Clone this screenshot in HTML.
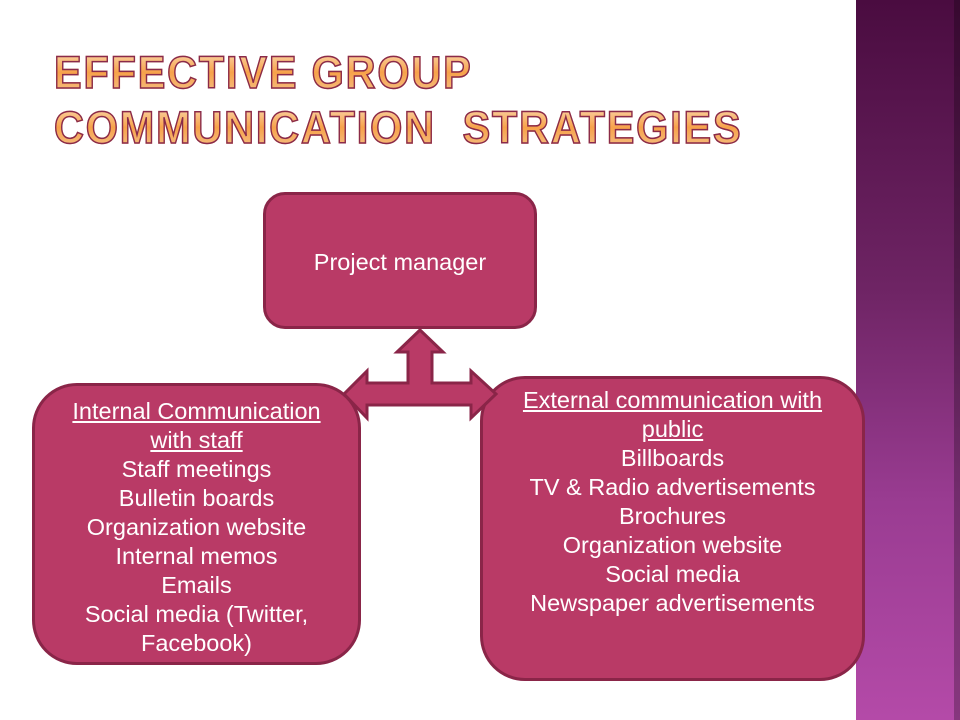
<!DOCTYPE html>
<html><head><style>
body{margin:0;width:960px;height:720px;position:relative;background:#fff;overflow:hidden;font-family:"Liberation Sans",sans-serif}
.side{position:absolute;left:856px;top:0;width:104px;height:720px;background:linear-gradient(#4a0c40,#6e2464 40%,#9a3c92 70%,#b44aa8)}
.side:after{content:"";position:absolute;right:0;top:0;width:6px;height:720px;background:rgba(0,0,0,.25)}
.t{position:absolute;left:54px;font-weight:bold;font-size:45px;letter-spacing:2px;line-height:1;white-space:nowrap;transform:scaleX(0.92);transform-origin:0 0;
background:linear-gradient(#fbd9b0,#f7a24a 50%,#f4c088);-webkit-background-clip:text;background-clip:text;color:transparent;-webkit-text-stroke:1.5px #8a2a4a}
.box{position:absolute;background:#b93a66;border:3px solid #8a2548;box-sizing:border-box;color:#fff;text-align:center;font-size:23.5px;line-height:29px}
u{text-decoration:underline}
</style></head><body>
<div class="side"></div>
<div class="t" style="top:50px">EFFECTIVE GROUP</div>
<div class="t" style="top:105px">COMMUNICATION&nbsp; STRATEGIES</div>
<div class="box" style="left:263px;top:192px;width:274px;height:137px;border-radius:22px;padding-top:53px">Project manager</div>
<div class="box" style="left:32px;top:383px;width:329px;height:282px;border-radius:45px;padding-top:11px"><u>Internal Communication<br>with staff</u><br>Staff meetings<br>Bulletin boards<br>Organization website<br>Internal memos<br>Emails<br>Social media (Twitter,<br>Facebook)</div>
<div class="box" style="left:480px;top:376px;width:385px;height:305px;border-radius:45px;padding-top:7px"><u>External communication with<br>public</u><br>Billboards<br>TV &amp; Radio advertisements<br>Brochures<br>Organization website<br>Social media<br>Newspaper advertisements</div>
<svg style="position:absolute;left:0;top:0" width="960" height="720">
<polygon points="420,330 443,352 432,352 432,383 471,383 471,371 496,394 471,418 471,405 367,405 367,418 344,394 367,371 367,383 408,383 408,352 397,352" fill="#b93a66" stroke="#8a2548" stroke-width="3" stroke-linejoin="miter"/>
</svg>
</body></html>
